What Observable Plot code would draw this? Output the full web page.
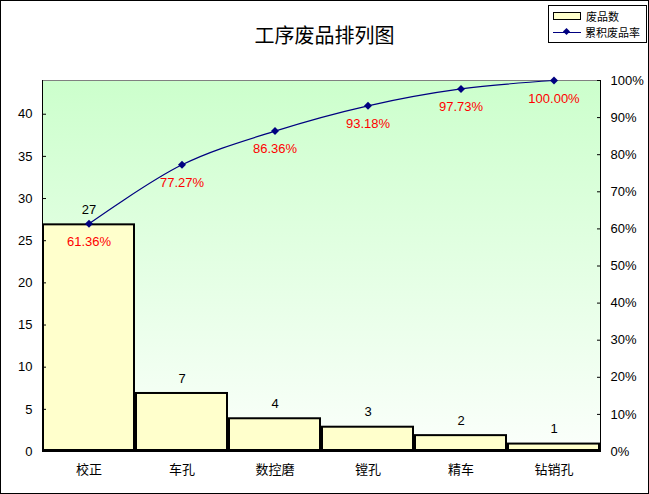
<!DOCTYPE html>
<html><head><meta charset="utf-8">
<script src="https://cdn.jsdelivr.net/npm/d3@7"></script>
<script src="https://cdn.jsdelivr.net/npm/@observablehq/plot@0.6"></script>
<style>
html,body{margin:0;padding:0;background:#fff;}
#wrap{position:relative;width:647px;height:492px;border:1px solid #000;font-family:"Liberation Sans",Arial,"Noto Sans CJK SC",sans-serif;overflow:hidden;}
#title{position:absolute;left:0;width:647px;top:20px;text-align:center;font-size:20px;color:#000;font-family:"Noto Sans CJK SC",sans-serif;line-height:28px;}
#legend{position:absolute;left:547px;top:4px;width:97px;height:36px;border:1px solid #000;background:#fff;font-size:11px;font-family:"Noto Sans CJK SC",sans-serif;}
.li{position:absolute;left:4px;height:16px;display:flex;align-items:center;}
.sw{width:26px;height:6px;background:#ffffcc;border:1px solid #000;margin-right:5px;}
.ln{position:relative;width:28px;height:1px;background:#000080;margin-right:4px;}
.dm{position:absolute;left:11px;top:-3px;width:5px;height:5px;background:#000080;transform:rotate(45deg);}
#chart{position:absolute;left:0;top:0;}
</style></head>
<body>
<div id="wrap">
<div id="chart"></div>
<div id="title">工序废品排列图</div>
<div id="legend">
  <div class="li" style="top:2px"><div class="sw"></div><span>废品数</span></div>
  <div class="li" style="top:18px"><div class="ln"><div class="dm"></div></div><span>累积废品率</span></div>
</div>
</div>
<script>
const categories = ["校正","车孔","数控磨","镗孔","精车","钻销孔"];
const counts = [27, 7, 4, 3, 2, 1];
const cumPct = [61.36, 77.27, 86.36, 93.18, 97.73, 100.00];
const leftTicks = [0,5,10,15,20,25,30,35,40];
const rightTicks = [0,10,20,30,40,50,60,70,80,90,100];
const yMax = 44;

const data = categories.map((c,i)=>({cat:c, count:counts[i], pct:cumPct[i], py:cumPct[i]/100*yMax}));

const chart = Plot.plot({
  width: 647, height: 492,
  marginLeft: 41, marginRight: 48, marginTop: 79, marginBottom: 42,
  style:{fontFamily:'"Liberation Sans",Arial,"Noto Sans CJK SC",sans-serif', fontSize:"13px", background:"transparent", color:"#000"},
  x:{domain:categories, padding:0, label:null},
  y:{domain:[0,yMax], label:null},
  marks:[
    () => {
      const ns="http://www.w3.org/2000/svg";
      const g=document.createElementNS(ns,"g");
      const defs=document.createElementNS(ns,"defs");
      defs.innerHTML='<linearGradient id="bg" x1="0" y1="0" x2="0" y2="1"><stop offset="0" stop-color="#ccffcc"/><stop offset="1" stop-color="#fbfffb"/></linearGradient>';
      g.appendChild(defs);
      return g;
    },
    Plot.frame({fill:"url(#bg)", stroke:null}),
    Plot.ruleY([yMax],{stroke:"#808080"}),
    Plot.barY(data,{x:"cat", y:"count", fill:"#ffffcc", stroke:"#000", strokeWidth:2, inset:1}),
    Plot.axisY({anchor:"left", ticks:leftTicks, tickSize:-4, tickPadding:14, fontSize:13, stroke:"#000"}),
    Plot.axisY({anchor:"right", ticks:rightTicks.map(p=>p/100*yMax), tickSize:-4, tickPadding:14, fontSize:13, tickFormat:d=>Math.round(d/yMax*100)+"%"}),
    Plot.axisX({tickSize:0, tickPadding:13, fontSize:13, fontFamily:'"Noto Sans CJK SC",sans-serif'}),
    Plot.lineY(data,{x:"cat", y:"py", stroke:"#000080", strokeWidth:1.2, curve:"catmull-rom"}),
    Plot.dot(data,{x:"cat", y:"py", symbol:"diamond2", r:3.6, fill:"#000080", stroke:null}),
    Plot.text(data,{x:"cat", y:"count", text:d=>String(d.count), dy:-14, fill:"#000", fontSize:13}),
    Plot.text(data,{x:"cat", y:"py", text:d=>d.pct.toFixed(2)+"%", dy:18, fill:"#ff0000", fontSize:13})
  ]
});
document.getElementById("chart").appendChild(chart);
const svg = chart;
const ns="http://www.w3.org/2000/svg";
[41, 647-48].forEach(xx=>{
  const l=document.createElementNS(ns,"line");
  l.setAttribute("x1",xx+0.5);l.setAttribute("x2",xx+0.5);
  l.setAttribute("y1",79);l.setAttribute("y2",492-42+0.5);
  l.setAttribute("stroke","#000");
  svg.appendChild(l);
});
const b=document.createElementNS(ns,"line");
b.setAttribute("x1",41);b.setAttribute("x2",647-48+0.5);
b.setAttribute("y1",492-42+0.5);b.setAttribute("y2",492-42+0.5);
b.setAttribute("stroke","#000");
svg.appendChild(b);
</script>
</body></html>
